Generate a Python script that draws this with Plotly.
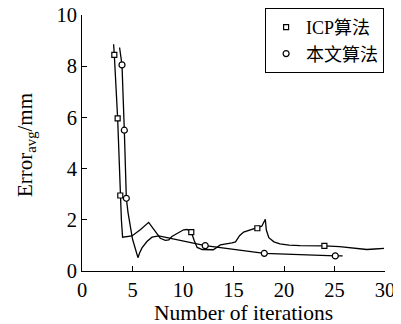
import plotly.graph_objects as go

# ICP algorithm curve (line path) and its marker points
icp_line_x = [3.13, 3.2, 3.53, 3.79, 3.9, 4.02, 4.5, 4.95, 5.8, 6.6, 7.2, 7.75, 8.25, 8.6, 8.9, 9.5, 10.06, 10.4, 10.82, 11.1, 11.4, 11.9, 12.5, 13.0, 13.7, 14.35, 14.85, 15.2, 15.6, 16.0, 16.7, 17.36, 17.8, 18.15, 18.25, 18.5, 19.0, 19.6, 20.5, 21.6, 23.0, 24.0, 25.5, 27.0, 28.2, 29.0, 29.9]
icp_line_y = [8.86, 8.44, 5.96, 2.95, 2.0, 1.32, 1.34, 1.37, 1.62, 1.90, 1.58, 1.28, 1.2, 1.22, 1.35, 1.5, 1.61, 1.62, 1.52, 1.2, 0.92, 0.84, 0.82, 0.83, 1.02, 1.05, 1.1, 1.14, 1.38, 1.52, 1.6, 1.67, 1.75, 2.02, 1.6, 1.3, 1.14, 1.06, 1.01, 0.99, 0.99, 0.98, 0.95, 0.9, 0.84, 0.86, 0.88]
icp_mark_x = [3.2, 3.53, 3.79, 10.82, 17.36, 24.0]
icp_mark_y = [8.44, 5.96, 2.95, 1.52, 1.67, 0.98]

# Proposed algorithm curve (line path) and its marker points
our_line_x = [3.72, 3.96, 4.19, 4.39, 4.55, 4.78, 5.0, 5.26, 5.54, 5.7, 5.94, 6.43, 6.93, 7.6, 12.2, 18.05, 22.0, 25.08, 25.8]
our_line_y = [8.73, 8.05, 5.5, 2.84, 2.3, 1.7, 1.25, 0.9, 0.52, 0.7, 0.9, 1.15, 1.32, 1.37, 0.99, 0.69, 0.62, 0.59, 0.59]
our_mark_x = [3.96, 4.19, 4.39, 12.2, 18.05, 25.08]
our_mark_y = [8.05, 5.5, 2.84, 0.99, 0.69, 0.59]

x_ticks = [0, 5, 10, 15, 20, 25, 30]
y_ticks = [0, 2, 4, 6, 8, 10]

x_title = "Number of iterations"
y_title = "Error<sub>avg</sub>/mm"

FONT = "Liberation Serif, Times New Roman, Noto Sans CJK SC, serif"

fig = go.Figure()
fig.add_trace(go.Scatter(x=icp_line_x, y=icp_line_y, mode="lines",
                         line=dict(color="black", width=1.3), showlegend=False, hoverinfo="skip"))
fig.add_trace(go.Scatter(x=our_line_x, y=our_line_y, mode="lines",
                         line=dict(color="black", width=1.3), showlegend=False, hoverinfo="skip"))
fig.add_trace(go.Scatter(x=icp_mark_x, y=icp_mark_y, mode="markers", name="ICP算法",
                         marker=dict(symbol="square", size=5, color="white",
                                     line=dict(color="black", width=1.2))))
fig.add_trace(go.Scatter(x=our_mark_x, y=our_mark_y, mode="markers", name="本文算法",
                         marker=dict(symbol="circle", size=6, color="white",
                                     line=dict(color="black", width=1.2))))

# page body has an 8px margin, so the figure is sized/offset to compensate
fig.update_layout(
    width=393, height=316,
    margin=dict(l=74, r=16, t=7, b=53, autoexpand=False),
    paper_bgcolor="white", plot_bgcolor="white",
    font=dict(family=FONT, size=20, color="black"),
    legend=dict(xref="container", yref="container", x=0.957, y=1.0,
                xanchor="right", yanchor="top",
                bordercolor="black", borderwidth=1, bgcolor="white",
                font=dict(family=FONT, size=18), itemwidth=30,
                tracegroupgap=0),
    xaxis=dict(range=[0, 30], tickvals=x_ticks, ticks="inside", ticklen=5,
               tickcolor="black", showline=True, linecolor="black", linewidth=1,
               showgrid=False, zeroline=False, automargin=False,
               ticklabeloverflow="allow",
               tickfont=dict(size=20.5)),
    yaxis=dict(range=[0, 10], tickvals=y_ticks, ticks="inside", ticklen=5,
               tickcolor="black", showline=True, linecolor="black", linewidth=1,
               showgrid=False, zeroline=False, automargin=False,
               ticklabeloverflow="allow",
               tickfont=dict(size=20.5)),
    annotations=[
        dict(text=x_title, xref="paper", yref="paper", x=0.533, y=-0.164,
             xanchor="center", yanchor="middle", showarrow=False,
             font=dict(family=FONT, size=21.5, color="black")),
        dict(text=y_title, xref="paper", yref="paper", x=-0.185, y=0.492,
             xanchor="center", yanchor="middle", showarrow=False, textangle=-90,
             font=dict(family=FONT, size=21, color="black")),
    ],
)

fig.write_html("out.html")
